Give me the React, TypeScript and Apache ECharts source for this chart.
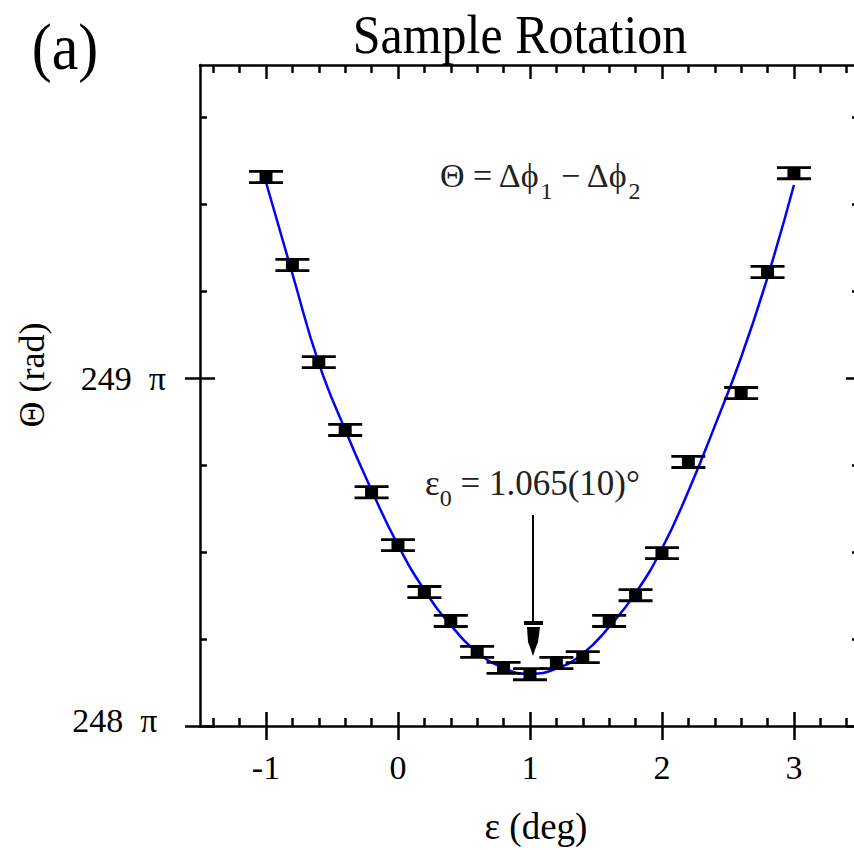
import React, { useEffect, useRef } from 'react';
import * as echarts from 'echarts';

// measured data points (epsilon in deg, Theta in units of pi)
const epsData = [-1, -0.8, -0.6, -0.4, -0.2, 0, 0.2, 0.4, 0.6, 0.8, 1.0, 1.2, 1.4, 1.6, 1.8, 2.0, 2.2, 2.6, 2.8, 3.0];
const thetaData = [249.578, 249.325, 249.046, 248.851, 248.672, 248.52, 248.385, 248.302, 248.213, 248.167, 248.149, 248.181, 248.198, 248.302, 248.376, 248.497, 248.759, 248.957, 249.305, 249.589];
const thetaErr = [0.016, 0.016, 0.016, 0.016, 0.016, 0.016, 0.016, 0.016, 0.016, 0.016, 0.016, 0.016, 0.016, 0.016, 0.016, 0.016, 0.016, 0.016, 0.016, 0.016];

// fitted curve
const fitEps = [-1, -0.8, -0.6, -0.4, -0.2, 0, 0.2, 0.4, 0.6, 0.8, 1.0, 1.2, 1.4, 1.6, 1.8, 2.0, 2.2, 2.4, 2.6, 2.8, 3.0];
const fitTheta = [249.563, 249.3, 249.043, 248.851, 248.678, 248.52, 248.391, 248.29, 248.213, 248.167, 248.15, 248.165, 248.208, 248.285, 248.382, 248.51, 248.675, 248.862, 249.06, 249.29, 249.555];

// ticks
const xMajor = [-1, 0, 1, 2, 3];
const xMinor = [-1.4, -1.2, -0.8, -0.6, -0.4, -0.2, 0.2, 0.4, 0.6, 0.8, 1.2, 1.4, 1.6, 1.8, 2.2, 2.4, 2.6, 2.8, 3.2, 3.4];
const yMajor = [248, 249];
const yMinor = [248.25, 248.5, 248.75, 249.25, 249.5, 249.75];

const FONT = "'Liberation Serif', 'Times New Roman', serif";

export default function App() {
  const ref = useRef<HTMLDivElement>(null);
  useEffect(() => {
    const chart = echarts.init(ref.current!, null, { renderer: 'svg' });
    const ls = { color: '#000', width: 2.5 };

    const xAx = (position: string, showLine: boolean, ticks: number[], inside: boolean, length: number, extra: any = {}) => ({
      type: 'value',
      min: -1.5,
      max: 3.455,
      position,
      splitLine: { show: false },
      axisLine: { show: showLine, onZero: false, lineStyle: ls },
      axisTick: { show: true, inside, length, customValues: ticks, lineStyle: ls },
      axisLabel: { show: false },
      ...extra,
    });
    const yAx = (position: string, showLine: boolean, ticks: number[], inside: boolean, length: number, extra: any = {}) => ({
      type: 'value',
      min: 248,
      max: 249.9,
      position,
      splitLine: { show: false },
      axisLine: { show: showLine, onZero: false, lineStyle: ls },
      axisTick: { show: true, inside, length, customValues: ticks, lineStyle: ls },
      axisLabel: { show: false },
      ...extra,
    });

    const option: any = {
      animation: false,
      backgroundColor: '#fff',
      grid: { left: 200, top: 65, right: 0, bottom: 124 },
      xAxis: [
        xAx('bottom', true, xMajor, false, 14, {
          axisLabel: {
            show: true,
            customValues: xMajor,
            formatter: (v: number) => String(v),
            fontFamily: FONT,
            fontSize: 34,
            color: '#000',
            margin: 24,
          },
          name: 'ε (deg)',
          nameLocation: 'middle',
          nameGap: 82,
          nameTextStyle: { fontFamily: FONT, fontSize: 37, color: '#000', padding: [0, 0, 0, 18] },
        }),
        xAx('bottom', false, xMajor, true, 14),
        xAx('bottom', false, xMinor, true, 8),
        xAx('top', true, xMajor, true, 14),
        xAx('top', false, xMinor, true, 8),
      ],
      yAxis: [
        yAx('left', true, yMajor, false, 15, {
          axisLabel: {
            show: true,
            customValues: yMajor,
            formatter: (v: number) => (v === 248 ? `{lo|${v}\u2002π\u00A0}` : `${v}\u2002π`),
            fontFamily: FONT,
            fontSize: 34,
            color: '#000',
            margin: 34,
            rich: {
              lo: { fontFamily: FONT, fontSize: 34, color: '#000', padding: [0, 0, 12, 0] },
            },
          },
        }),
        yAx('left', false, yMajor, true, 15),
        yAx('left', false, yMinor, true, 7),
        yAx('right', false, yMajor, true, 8),
        yAx('right', false, yMinor, true, 2),
      ],
      series: [
        {
          type: 'line',
          data: fitEps.map((e, i) => [e, fitTheta[i]]),
          smooth: true,
          showSymbol: false,
          symbol: 'none',
          lineStyle: { color: '#0000ff', width: 2.5 },
          z: 2,
        },
        {
          type: 'custom',
          data: epsData.map((e, i) => [e, thetaData[i], thetaErr[i]]),
          renderItem: (params: any, api: any) => {
            const x = api.value(0);
            const y = api.value(1);
            const e = api.value(2);
            const top = api.coord([x, y + e]);
            const bot = api.coord([x, y - e]);
            const half = 17;
            const st = { stroke: '#000', lineWidth: 2.8 };
            return {
              type: 'group',
              children: [
                { type: 'line', shape: { x1: top[0] - half, y1: top[1], x2: top[0] + half, y2: top[1] }, style: st },
                { type: 'line', shape: { x1: bot[0] - half, y1: bot[1], x2: bot[0] + half, y2: bot[1] }, style: st },
                { type: 'line', shape: { x1: top[0], y1: top[1], x2: bot[0], y2: bot[1] }, style: { stroke: '#000', lineWidth: 2 } },
              ],
            };
          },
          z: 3,
        },
        {
          type: 'scatter',
          data: epsData.map((e, i) => [e, thetaData[i]]),
          symbol: 'rect',
          symbolSize: [13, 10],
          itemStyle: { color: '#000', opacity: 1 },
          z: 4,
        },
      ],
      graphic: [
        {
          type: 'text',
          x: 520,
          y: 35,
          scaleY: 1.08,
          style: {
            text: 'Sample Rotation',
            fontFamily: FONT,
            fontSize: 50,
            fill: '#000',
            align: 'center',
            verticalAlign: 'middle',
          },
        },
        {
          type: 'text',
          x: 65,
          y: 47,
          scaleY: 1.08,
          style: {
            text: '(a)',
            fontFamily: FONT,
            fontSize: 60,
            fill: '#000',
            align: 'center',
            verticalAlign: 'middle',
          },
        },
        {
          type: 'text',
          x: 32,
          y: 375,
          rotation: Math.PI / 2,
          style: {
            text: 'Θ (rad)',
            fontFamily: FONT,
            fontSize: 36,
            fill: '#000',
            align: 'center',
            verticalAlign: 'middle',
          },
        },
        {
          type: 'text',
          x: 440,
          y: 158,
          style: {
            text: '{m|Θ = Δϕ}{s|1}{m| − Δϕ}{s|2}',
            fill: '#222',
            align: 'left',
            verticalAlign: 'top',
            rich: {
              m: { fontFamily: FONT, fontSize: 34, lineHeight: 44, verticalAlign: 'top', fill: '#222' },
              s: { fontFamily: FONT, fontSize: 24, lineHeight: 24, verticalAlign: 'top', padding: [21, 0, 0, 0], fill: '#222' },
            },
          },
        },
        {
          type: 'text',
          x: 425,
          y: 466,
          style: {
            text: '{m|ε}{s|0}{m| = 1.065(10)°}',
            fill: '#222',
            align: 'left',
            verticalAlign: 'top',
            rich: {
              m: { fontFamily: FONT, fontSize: 35, lineHeight: 44, verticalAlign: 'top', fill: '#222' },
              s: { fontFamily: FONT, fontSize: 24, lineHeight: 24, verticalAlign: 'top', padding: [20, 0, 0, 0], fill: '#222' },
            },
          },
        },
        {
          type: 'line',
          shape: { x1: 533, y1: 515, x2: 533, y2: 625 },
          style: { stroke: '#000', lineWidth: 2 },
        },
        {
          type: 'rect',
          shape: { x: 524, y: 621, width: 19, height: 4 },
          style: { fill: '#000' },
        },
        {
          type: 'polygon',
          shape: { points: [[527, 627], [540, 627], [538, 642], [536, 647], [533, 656], [530, 647], [528, 642]] },
          style: { fill: '#000' },
        },
      ],
    };
    chart.setOption(option);
    return () => chart.dispose();
  }, []);
  return <div ref={ref} style={{ position: 'fixed', left: 0, top: 0, width: 854, height: 850 }} />;
}
